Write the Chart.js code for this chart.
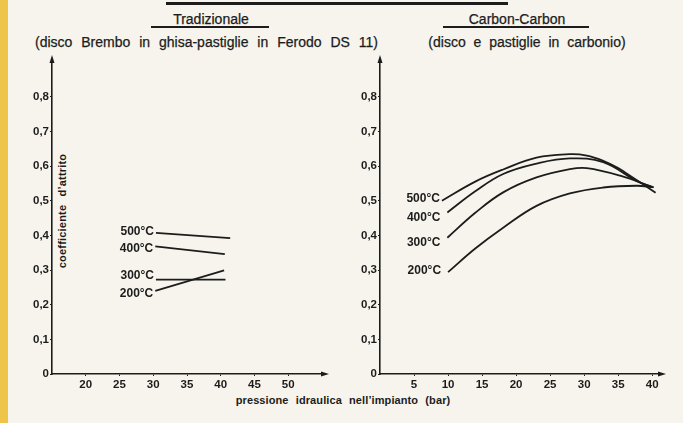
<!DOCTYPE html>
<html><head><meta charset="utf-8">
<script src="https://cdn.jsdelivr.net/npm/chart.js@4/dist/chart.umd.min.js"></script>
<style>
html,body{margin:0;padding:0;}
body{width:683px;height:423px;background:#f6f4ec;position:relative;overflow:hidden;font-family:"Liberation Sans",Arial,sans-serif;color:#1c1c1c;}
#strip{position:absolute;left:0;top:0;width:8px;height:423px;background:#efc44a;}
canvas{position:absolute;left:0;top:0;}
.t{position:absolute;white-space:nowrap;text-align:center;line-height:16px;-webkit-text-stroke:0.25px #1c1c1c;}
.rule{position:absolute;background:#1c1c1c;}
</style></head><body>
<div id="strip"></div>
<div class="rule" style="left:166px;top:2px;width:342px;height:3px;"></div>
<div class="t" style="left:131px;top:11px;width:160px;font-size:14px;">Tradizionale</div>
<div class="rule" style="left:151px;top:26px;width:118px;height:2px;"></div>
<div class="t" style="left:406px;top:11px;width:222px;font-size:14px;">Carbon-Carbon</div>
<div class="rule" style="left:443px;top:26px;width:146px;height:2px;"></div>
<div class="t" style="left:0px;top:34px;width:413px;font-size:14px;word-spacing:5px;">(disco Brembo in ghisa-pastiglie in Ferodo DS 11)</div>
<div class="t" style="left:407px;top:34px;width:240px;font-size:14px;word-spacing:4px;">(disco e pastiglie in carbonio)</div>
<div class="t" style="left:62px;top:211px;font-size:11px;font-weight:bold;word-spacing:5px;letter-spacing:0.2px;-webkit-text-stroke:0;transform:translate(-50%,-50%) rotate(-90deg);">coefficiente d’attrito</div>
<div class="t" style="left:343px;top:400px;font-size:11px;font-weight:bold;word-spacing:4px;letter-spacing:0.1px;-webkit-text-stroke:0;transform:translate(-50%,-50%);">pressione idraulica nell’impianto (bar)</div>
<canvas id="c1" width="683" height="423"></canvas>
<canvas id="c2" width="683" height="423"></canvas>
<script>
// ---- data ----
const yTickValues = [0, 0.1, 0.2, 0.3, 0.4, 0.5, 0.6, 0.7, 0.8];
const yTickLabels = ["0", "0,1", "0,2", "0,3", "0,4", "0,5", "0,6", "0,7", "0,8"];
const tradXTicks = [20, 25, 30, 35, 40, 45, 50];
const carbXTicks = [5, 10, 15, 20, 25, 30, 35, 40];
const seriesNames = ["500°C", "400°C", "300°C", "200°C"];

const trad500 = [{x:30.4,y:0.407},{x:41.4,y:0.392}];
const trad400 = [{x:30.3,y:0.368},{x:40.6,y:0.346}];
const trad300 = [{x:30.4,y:0.272},{x:40.7,y:0.272}];
const trad200 = [{x:30.3,y:0.240},{x:40.5,y:0.299}];

const carb500 = [{x:9.1,y:0.500},{x:14,y:0.555},{x:18.1,y:0.590},{x:23,y:0.624},{x:27.9,y:0.634},{x:30.4,y:0.630},{x:32.8,y:0.615},{x:35,y:0.594},{x:36.8,y:0.571},{x:40.5,y:0.523}];
const carb400 = [{x:9.9,y:0.466},{x:14,y:0.527},{x:18.1,y:0.577},{x:23,y:0.607},{x:27.9,y:0.622},{x:32.8,y:0.611},{x:37.7,y:0.557},{x:40,y:0.540}];
const carb300 = [{x:9.9,y:0.393},{x:14,y:0.465},{x:18.1,y:0.524},{x:23,y:0.567},{x:27.9,y:0.591},{x:30.4,y:0.594},{x:35.3,y:0.572},{x:40.2,y:0.538}];
const carb200 = [{x:10,y:0.294},{x:14,y:0.362},{x:18.1,y:0.422},{x:23,y:0.485},{x:27.9,y:0.521},{x:32.8,y:0.538},{x:37.7,y:0.543},{x:40.2,y:0.539}];

// ---- styles ----
const INK = '#1c1c1c';
const tickFont = {family: '"Liberation Sans", Arial, sans-serif', size: 11.5, weight: 'bold'};
const tradLabelOffsets = [{gap:2,dy:-1},{gap:2,dy:2},{gap:2,dy:-4},{gap:2,dy:3}];
const carbLabelOffsets = [{gap:2,dy:-2},{gap:7,dy:5},{gap:7,dy:5},{gap:7,dy:-1}];

const decorPlugin = {
  id: 'decor',
  afterDatasetsDraw(chart, args, opts) {
    const ctx = chart.ctx, a = chart.chartArea;
    ctx.save();
    ctx.fillStyle = INK;
    ctx.beginPath();
    ctx.moveTo(a.left, a.top - 7); ctx.lineTo(a.left - 2.5, a.top + 1); ctx.lineTo(a.left + 2.5, a.top + 1); ctx.closePath(); ctx.fill();
    ctx.beginPath();
    ctx.moveTo(a.right + 7, a.bottom); ctx.lineTo(a.right - 1, a.bottom - 2.5); ctx.lineTo(a.right - 1, a.bottom + 2.5); ctx.closePath(); ctx.fill();
    ctx.font = 'bold 12px "Liberation Sans", Arial, sans-serif';
    ctx.textAlign = 'right';
    ctx.textBaseline = 'middle';
    chart.data.datasets.forEach((ds, i) => {
      const p = chart.getDatasetMeta(i).data[0];
      const o = opts.offsets[i];
      ctx.fillText(ds.label, p.x - o.gap, p.y + o.dy);
    });
    ctx.restore();
  }
};

function makeChart(id, seriesData, xMin, xMax, xTicks, padding, offsets, smooth) {
  const datasets = seriesData.map((d, i) => ({
    label: seriesNames[i], data: d, borderColor: INK, borderWidth: 1.8,
    pointRadius: 0, fill: false, tension: smooth ? 0.4 : 0
  }));
  return new Chart(document.getElementById(id), {
    type: 'line',
    data: {datasets},
    plugins: [decorPlugin],
    options: {
      responsive: false, animation: false,
      layout: {padding},
      plugins: {legend: {display: false}, tooltip: {enabled: false}, decor: {offsets}},
      scales: {
        x: {
          type: 'linear', min: xMin, max: xMax,
          afterBuildTicks: s => { s.ticks = xTicks.map(v => ({value: v})); },
          afterFit: s => { s.height = 26; },
          ticks: {color: INK, font: tickFont, padding: 2, maxRotation: 0, autoSkip: false, callback: v => String(v)},
          grid: {display: true, drawOnChartArea: false, drawTicks: true, tickLength: 2, color: INK},
          border: {display: true, color: INK, width: 1.6}
        },
        y: {
          type: 'linear', min: 0, max: 0.9,
          afterBuildTicks: s => { s.ticks = yTickValues.map(v => ({value: v})); },
          afterFit: s => { s.width = 24; },
          ticks: {color: INK, font: tickFont, padding: 1, autoSkip: false,
                  callback: v => yTickLabels[yTickValues.findIndex(t => Math.abs(t - v) < 1e-6)]},
          grid: {display: true, drawOnChartArea: false, drawTicks: true, tickLength: 2, color: INK},
          border: {display: true, color: INK, width: 1.6}
        }
      }
    }
  });
}

makeChart('c1', [trad500, trad400, trad300, trad200], 15, 55, tradXTicks,
  {left: 28, right: 361, top: 62, bottom: 23}, tradLabelOffsets, false);
makeChart('c2', [carb500, carb400, carb300, carb200], 0, 41, carbXTicks,
  {left: 356, right: 24, top: 62, bottom: 23}, carbLabelOffsets, true);
</script>
</body></html>
